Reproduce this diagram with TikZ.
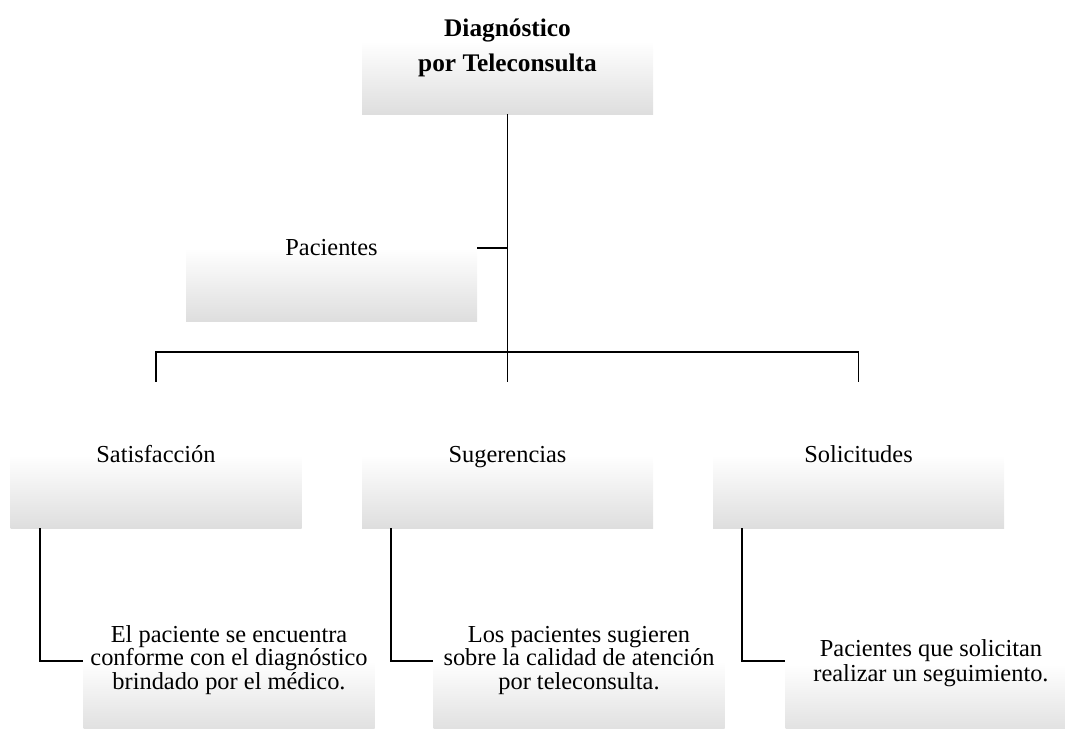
\documentclass[tikz,border=0pt]{standalone}
\usepackage{fontspec}
\setmainfont{Liberation Serif}
\usetikzlibrary{calc}
\definecolor{boxgray}{RGB}{222,222,222}
\pgfdeclareverticalshading{boxgrad}{100bp}{color(0bp)=(boxgray); color(25bp)=(boxgray); color(50bp)=(white); color(100bp)=(white)}
\begin{document}
\begin{tikzpicture}[x=0.75pt,y=-0.75pt,
  basebox/.style={shading=boxgrad, draw=none, minimum width=218.25pt, minimum height=109.5pt,
    inner sep=0pt, font=\fontsize{18.3pt}{17.6pt}\selectfont},
  box/.style={basebox, align=center,
    execute at begin node=\strut, execute at end node=\strut},
  single/.style={basebox, text height=12.3pt, text depth=1.8pt},
  conn/.style={draw=black, line width=1.3pt}]
\useasboundingbox (0,0) rectangle (1065,729);
\clip (0,0) rectangle (1065,729);
% boxes
\node[basebox] (top) at (507.5,41) {};
\node[font=\fontsize{19pt}{26.25pt}\selectfont\bfseries, align=center, inner sep=0pt,
  execute at begin node=\strut, execute at end node=\strut] (toptext) at (507.5,50) {Diagnóstico\\por Teleconsulta};
\node[single] (pac) at (331.5,248) {Pacientes};
\node[single] (sat) at (156,455) {Satisfacción};
\node[single] (sug) at (507.5,455) {Sugerencias};
\node[single] (sol) at (858.5,455) {Solicitudes};
\node[box] (d1) at (229,661) {El paciente se encuentra\\conforme con el diagnóstico\\brindado por el médico.};
\node[box] (d2) at (579,661) {Los pacientes sugieren\\sobre la calidad de atención\\por teleconsulta.};
\node[box, font=\fontsize{18.3pt}{19pt}\selectfont] (d3) at (931,664) {Pacientes que solicitan\\realizar un seguimiento.};
% connectors
\coordinate (bus) at (507.5,352);
\draw[conn] (top.south) -- (sug.north);
\draw[conn] (pac.east) -- (pac.east -| top.south);
\draw[conn] (sat.north) |- (bus) -| (sol.north);
\draw[conn] ($(sat.south west)+(30,0)$) |- (d1.west);
\draw[conn] ($(sug.south west)+(29,0)$) |- (d2.west);
\draw[conn] ($(sol.south west)+(29,0)$) |- ($(d3.west)+(0,-3)$);
\end{tikzpicture}
\end{document}
